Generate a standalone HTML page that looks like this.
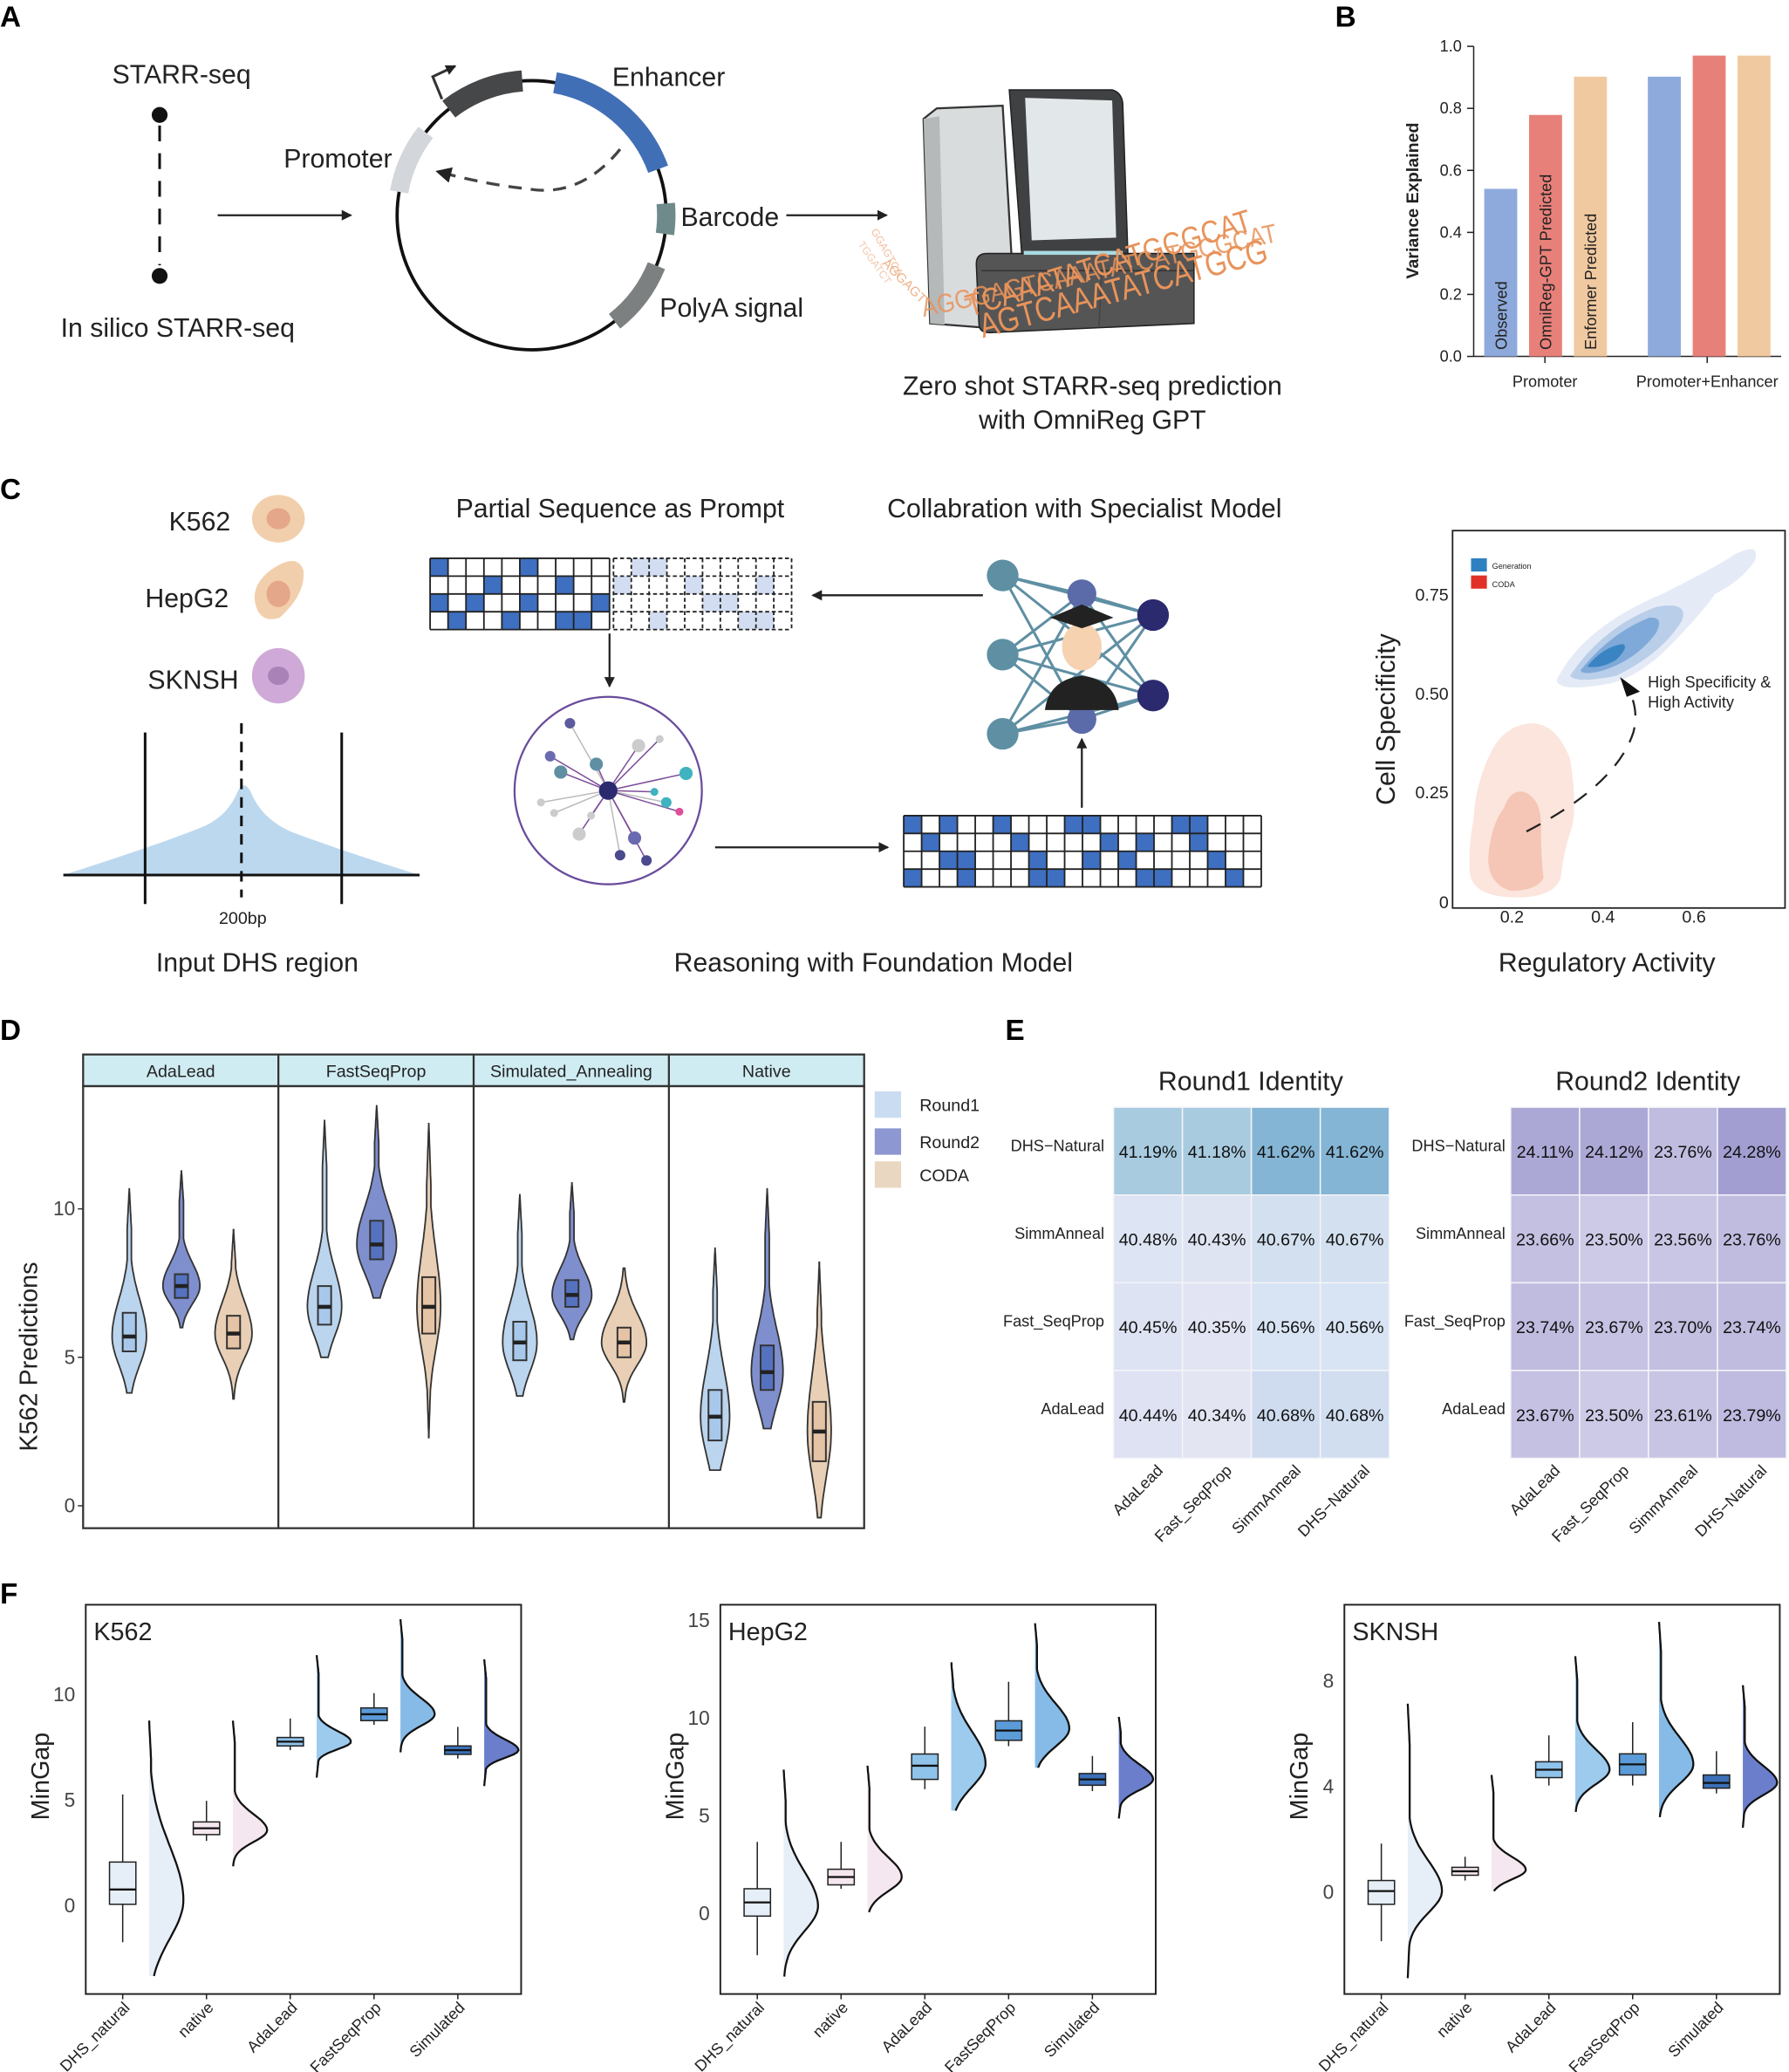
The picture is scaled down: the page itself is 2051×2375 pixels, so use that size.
<!DOCTYPE html>
<html><head><meta charset="utf-8">
<style>
html,body{margin:0;padding:0;background:#fff;}
svg{display:block;font-family:"Liberation Sans",sans-serif;}
</style></head>
<body>
<svg id="s" width="2051" height="2375" viewBox="0 0 1356 1570" xmlns="http://www.w3.org/2000/svg">
<defs>
<marker id="ah" markerWidth="8" markerHeight="8" refX="7" refY="4" orient="auto" markerUnits="userSpaceOnUse"><path d="M0,0 L8,4 L0,8 z" fill="#222"/></marker>
<marker id="ah2" markerWidth="14" markerHeight="14" refX="10" refY="7" orient="auto" markerUnits="userSpaceOnUse"><path d="M0,1 L12,7 L0,13 z" fill="#222"/></marker>
</defs>
<rect width="1356" height="1570" fill="#fff"/>
<g font-weight="bold" font-size="22" fill="#000">
<text x="0" y="20">A</text><text x="1012" y="20">B</text><text x="0" y="378">C</text>
<text x="0" y="788">D</text><text x="762" y="788">E</text><text x="0" y="1215">F</text></g>

<!-- Panel A -->
<g font-size="20" fill="#222">
<text x="85" y="63">STARR-seq</text>
<text x="46" y="255">In silico STARR-seq</text>
<text x="215" y="127">Promoter</text>
<text x="464" y="65">Enhancer</text>
<text x="516" y="171">Barcode</text>
<text x="500" y="240">PolyA signal</text>
<text x="828" y="299" text-anchor="middle">Zero shot STARR-seq prediction</text>
<text x="828" y="325" text-anchor="middle">with OmniReg GPT</text>
</g>
<circle cx="121" cy="87" r="6" fill="#111"/><circle cx="121" cy="209" r="6" fill="#111"/>
<line x1="121" y1="95" x2="121" y2="201" stroke="#111" stroke-width="2" stroke-dasharray="12,9"/>
<line x1="165" y1="163" x2="266" y2="163" stroke="#222" stroke-width="1.5" marker-end="url(#ah)"/>
<line x1="596" y1="163" x2="672" y2="163" stroke="#222" stroke-width="1.5" marker-end="url(#ah)"/>
<g id="plasmid"></g>
<!-- machine -->
<g>
<path d="M700,90 L710,82 L760,80 L770,250 L705,245 Z" fill="#d9dcdd" stroke="#333" stroke-width="1.5"/>
<path d="M700,90 L705,245 L716,246 L712,88 Z" fill="#b5b9ba"/>
<path d="M765,68 L843,68 Q850,70 851,78 L855,196 L775,200 Z" fill="#3f4142" stroke="#222"/>
<path d="M777,74 L843,76 L846,180 L782,182 Z" fill="#e2e8ea"/>
<path d="M740,200 Q740,192 748,192 L905,192 L905,245 L750,252 Q742,252 742,245 Z" fill="#555" stroke="#222"/>
<path d="M744,205 L905,205" stroke="#333"/>
<line x1="835" y1="205" x2="833" y2="248" stroke="#444"/>
<rect x="776" y="190" width="75" height="3" fill="#a9d9e0"/>
</g>
<g fill="#e8935a">
<text transform="translate(735,240) rotate(-17)" font-size="24" textLength="225" lengthAdjust="spacingAndGlyphs">TCAAATATCATGCGCAT</text>
<text transform="translate(745,256) rotate(-15)" font-size="26" textLength="225" lengthAdjust="spacingAndGlyphs">AGTCAAATATCATGCG</text>
<text transform="translate(700,240) rotate(-12)" font-size="20" textLength="275" lengthAdjust="spacingAndGlyphs" opacity="0.85">AGGGAGTCAAATATCATGCGCAT</text>
<text transform="translate(660,175) rotate(60)" font-size="8" opacity="0.6">GGAGTCA</text>
<text transform="translate(650,185) rotate(55)" font-size="8" opacity="0.5">TGGATCT</text>
<text transform="translate(668,200) rotate(45)" font-size="10" opacity="0.7">AGGAGT</text>
</g>

<!-- Panel B -->
<g font-size="12" fill="#222">
<line x1="1117" y1="35" x2="1117" y2="270" stroke="#222"/>
<line x1="1117" y1="270" x2="1350" y2="270" stroke="#222"/>
<g id="bticks"></g>
<rect x="1125" y="143" width="25" height="127" fill="#8eaadc"/>
<rect x="1159" y="87" width="25" height="183" fill="#e8807a"/>
<rect x="1193" y="58" width="25" height="212" fill="#f1c9a0"/>
<rect x="1249" y="58" width="25" height="212" fill="#8eaadc"/>
<rect x="1283" y="42" width="25" height="228" fill="#e8807a"/>
<rect x="1317" y="42" width="25" height="228" fill="#f1c9a0"/>
<text transform="translate(1142,265) rotate(-90)">Observed</text>
<text transform="translate(1176,265) rotate(-90)">OmniReg-GPT Predicted</text>
<text transform="translate(1210,265) rotate(-90)">Enformer Predicted</text>
<text x="1171" y="293" text-anchor="middle">Promoter</text>
<text x="1294" y="293" text-anchor="middle">Promoter+Enhancer</text>
<line x1="1171" y1="270" x2="1171" y2="275" stroke="#222"/><line x1="1294" y1="270" x2="1294" y2="275" stroke="#222"/>
<text transform="translate(1075,152) rotate(-90)" text-anchor="middle" font-weight="bold" font-size="13">Variance Explained</text>
</g>

<!-- Panel C -->
<g font-size="20" fill="#222">
<text x="128" y="402">K562</text><text x="110" y="460">HepG2</text><text x="112" y="522">SKNSH</text>
<text x="470" y="392" text-anchor="middle">Partial Sequence as Prompt</text>
<text x="822" y="392" text-anchor="middle">Collabration with Specialist Model</text>
<text x="195" y="736" text-anchor="middle">Input DHS region</text>
<text x="662" y="736" text-anchor="middle">Reasoning with Foundation Model</text>
<text x="1218" y="736" text-anchor="middle">Regulatory Activity</text>
<text x="184" y="700" text-anchor="middle" font-size="13">200bp</text>
</g>
<ellipse cx="211" cy="393" rx="20" ry="18" fill="#f2cfac"/><ellipse cx="211" cy="393" rx="9" ry="8" fill="#e5a789"/>
<path d="M195,462 Q188,445 205,432 Q225,418 230,432 Q232,450 212,468 Q200,472 195,462 Z" fill="#f2cfac"/><ellipse cx="211" cy="450" rx="9" ry="10" fill="#e5a789"/>
<ellipse cx="211" cy="512" rx="20" ry="21" fill="#cfa9d8"/><ellipse cx="211" cy="512" rx="8" ry="7" fill="#a983b8"/>
<path d="M48,663 Q120,640 150,628 Q172,620 180,600 Q185,590 190,600 Q198,620 220,630 Q260,645 318,663 Z" fill="#bcd8ee"/>
<line x1="48" y1="663" x2="318" y2="663" stroke="#111" stroke-width="2"/>
<line x1="110" y1="555" x2="110" y2="685" stroke="#111" stroke-width="2"/>
<line x1="259" y1="555" x2="259" y2="685" stroke="#111" stroke-width="2"/>
<line x1="183" y1="548" x2="183" y2="680" stroke="#111" stroke-width="2" stroke-dasharray="8,6"/>
<g id="grids"></g>
<line x1="745" y1="451" x2="616" y2="451" stroke="#222" stroke-width="1.5" marker-end="url(#ah)"/>
<line x1="462" y1="480" x2="462" y2="520" stroke="#222" stroke-width="1.5" marker-end="url(#ah)"/>
<line x1="542" y1="642" x2="673" y2="642" stroke="#222" stroke-width="1.5" marker-end="url(#ah)"/>
<line x1="820" y1="612" x2="820" y2="560" stroke="#222" stroke-width="1.5" marker-end="url(#ah)"/>
<circle cx="461" cy="599" r="71" fill="#fff" stroke="#6a4c9c" stroke-width="1.5"/>
<g id="net"></g>
<g id="nn"></g>
<!-- scatter density -->
<rect x="1101" y="402" width="252" height="286" fill="#fff" stroke="#222" stroke-width="1.2"/>
<g font-size="13" fill="#222">
<text x="1098" y="455" text-anchor="end">0.75</text><text x="1098" y="530" text-anchor="end">0.50</text>
<text x="1098" y="605" text-anchor="end">0.25</text><text x="1098" y="688" text-anchor="end">0</text>
<text x="1146" y="699" text-anchor="middle">0.2</text><text x="1215" y="699" text-anchor="middle">0.4</text><text x="1284" y="699" text-anchor="middle">0.6</text>
<text transform="translate(1057,545) rotate(-90)" text-anchor="middle" font-size="20">Cell Specificity</text>
<text x="1249" y="521" font-size="12">High Specificity &amp;</text>
<text x="1249" y="536" font-size="12">High Activity</text>
<text x="1131" y="431" font-size="6">Generation</text><text x="1131" y="445" font-size="6">CODA</text>
</g>
<rect x="1115" y="423" width="12" height="10" fill="#2f80c0"/><rect x="1115" y="436" width="12" height="10" fill="#e03028"/>
<path d="M1130,570 Q1140,550 1160,548 Q1180,548 1190,575 Q1195,605 1192,625 Q1185,645 1183,665 Q1178,680 1150,680 Q1115,680 1114,660 Q1113,640 1117,620 Q1118,595 1130,570 Z" fill="#fbe5dc"/>
<path d="M1140,612 Q1145,598 1155,600 Q1168,605 1168,625 Q1168,650 1170,665 Q1165,675 1145,675 Q1128,670 1128,650 Q1130,625 1140,612 Z" fill="#f5c6b5"/>
<path d="M1180,515 Q1200,475 1260,450 Q1300,430 1315,420 Q1335,410 1330,425 Q1320,440 1300,450 Q1292,462 1270,485 Q1245,512 1220,518 Q1180,525 1180,515 Z" fill="#e5ebf6"/>
<path d="M1190,512 Q1215,475 1255,460 Q1280,455 1275,470 Q1260,495 1225,512 Q1195,518 1190,512 Z" fill="#b9cee9"/>
<path d="M1198,508 Q1220,480 1250,468 Q1262,467 1255,480 Q1240,500 1215,508 Q1200,512 1198,508 Z" fill="#7fa9d8"/>
<path d="M1203,505 Q1215,490 1230,488 Q1235,490 1225,500 Q1213,507 1203,505 Z" fill="#3a84c4"/>
<path d="M1157,630 Q1225,595 1238,555 Q1242,540 1236,526" fill="none" stroke="#222" stroke-width="1.5" stroke-dasharray="12,9"/>
<path d="M1228,513 L1243,524 L1233,528 Z" fill="#111"/>

<g id="pd"></g>
<g id="pe"></g>
<g id="pf"></g>
</svg>
<script>
const NS="http://www.w3.org/2000/svg";
function el(p,t,a,txt){const e=document.createElementNS(NS,t);for(const k in a)e.setAttribute(k,a[k]);if(txt!=null)e.textContent=txt;document.getElementById(p).appendChild(e);return e;}
(function(){
 const cx=403,cy=163,r=102;
 el("plasmid","circle",{cx,cy,r,fill:"none",stroke:"#111","stroke-width":2.5});
 function arc(a0,a1,col,w){const p=a=>[cx+r*Math.cos(a*Math.PI/180),cy+r*Math.sin(a*Math.PI/180)];
  const s=p(a0),e=p(a1);el("plasmid","path",{d:`M${s[0]},${s[1]} A${r},${r} 0 0 1 ${e[0]},${e[1]}`,fill:"none",stroke:col,"stroke-width":w});}
 arc(190,218,"#d3d6da",14);arc(232,266,"#454748",16);arc(280,340,"#416fb6",16);arc(355,8,"#6e8a8a",14);arc(22,52,"#7d8080",14);
 el("plasmid","path",{d:"M335,75 L328,58 L345,50",fill:"none",stroke:"#333","stroke-width":2,"marker-end":"url(#ah)"});
 el("plasmid","path",{d:"M470,113 Q440,150 400,143 Q370,140 332,130",fill:"none",stroke:"#444","stroke-width":2.2,"stroke-dasharray":"10,7","marker-end":"url(#ah2)"});
})();
[0,0.2,0.4,0.6,0.8,1.0].forEach(v=>{const y=270-v*235;el("bticks","line",{x1:1112,y1:y,x2:1117,y2:y,stroke:"#222"});el("bticks","text",{x:1108,y:y+4,"text-anchor":"end","font-size":12},v.toFixed(1));});
function grid(x0,y0,w,h,cols,rows,pattern,dash,fillc){
 const cw=w/cols,rh=h/rows;
 for(let r=0;r<rows;r++)for(let c=0;c<cols;c++){
  if(pattern(r,c))el("grids","rect",{x:x0+c*cw,y:y0+r*rh,width:cw,height:rh,fill:fillc});}
 for(let c=0;c<=cols;c++)el("grids","line",{x1:x0+c*cw,y1:y0,x2:x0+c*cw,y2:y0+h,stroke:"#222","stroke-width":1.2,"stroke-dasharray":dash?"3,2":"none"});
 for(let r=0;r<=rows;r++)el("grids","line",{x1:x0,y1:y0+r*rh,x2:x0+w,y2:y0+r*rh,stroke:"#222","stroke-width":1.2,"stroke-dasharray":dash?"3,2":"none"});
}
const p1=[[1,0,0,0,0,1,0,0,0,0],[0,0,0,1,0,0,0,1,0,0],[1,0,1,0,0,1,0,0,0,1],[0,1,0,0,1,0,0,1,1,0]];
grid(326,423,136,54,10,4,(r,c)=>p1[r][c],false,"#3e6fc0");
const p2=[[0,1,1,0,0,0,0,0,0,0],[1,0,0,0,1,0,0,0,1,0],[0,0,0,0,0,1,1,0,0,0],[0,0,1,0,0,0,0,1,1,0]];
grid(465,423,135,54,10,4,(r,c)=>p2[r][c],true,"#d3ddf2");
grid(685,618,271,54,20,4,(r,c)=>((r*7+c*3)%5==0)||((c+r*3)%7==2),false,"#3e6fc0");
(function(){
 const nodes=[[461,599,7,"#2b2a6e"],[425,585,5,"#5e8fa3"],[452,579,5,"#5e8fa3"],[432,548,4,"#5b5b9e"],[417,573,4,"#6a6ab0"],[520,586,5,"#3fb3bf"],[505,608,4,"#3fb3bf"],[481,635,5,"#6a6ab0"],[490,652,4,"#4a4a8e"],[470,648,4,"#4a4a8e"],[484,565,5,"#ccc"],[439,632,5,"#ccc"],[410,608,3,"#ccc"],[496,600,3,"#3fb3bf"],[515,615,3,"#e04f9a"],[420,616,3,"#ccc"],[500,560,3,"#ccc"],[448,618,3,"#ccc"]];
 nodes.forEach((n,i)=>{if(i)el("net","line",{x1:461,y1:599,x2:n[0],y2:n[1],stroke:i%3?"#7d4e9a":"#bbb","stroke-width":1});});
 nodes.forEach(n=>el("net","circle",{cx:n[0],cy:n[1],r:n[2],fill:n[3]}));
 const L=[[760,436],[760,496],[760,556]],M=[[820,450],[820,545]],R=[[874,466],[874,527]];
 L.forEach(a=>{M.concat(R).forEach(b=>el("nn","line",{x1:a[0],y1:a[1],x2:b[0],y2:b[1],stroke:"#5f8fa3","stroke-width":2}));});
 M.forEach(a=>R.forEach(b=>el("nn","line",{x1:a[0],y1:a[1],x2:b[0],y2:b[1],stroke:"#5f8fa3","stroke-width":2})));
 L.forEach(a=>el("nn","circle",{cx:a[0],cy:a[1],r:12,fill:"#5e8fa3"}));
 M.forEach(a=>el("nn","circle",{cx:a[0],cy:a[1],r:11,fill:"#5b6aa8"}));
 R.forEach(a=>el("nn","circle",{cx:a[0],cy:a[1],r:12,fill:"#2b2a6e"}));
 el("nn","path",{d:"M792,538 Q795,515 820,512 Q845,515 848,538 Z",fill:"#222"});
 el("nn","ellipse",{cx:820,cy:490,rx:15,ry:18,fill:"#f6d2b0"});
 el("nn","path",{d:"M796,468 L820,458 L844,468 L820,476 Z",fill:"#222"});
})();
function vpath(x,s,mn,q1,md,q3,mx,W,half){
 const N=60,pts=[];const sd=Math.max((q3-q1)/1.35,0.2);
 for(let i=0;i<=N;i++){const v=mn+(mx-mn)*i/N;let sdd=v>md?sd*1.3:sd;
  let w=W*Math.exp(-0.5*Math.pow((v-md)/sdd,2));const tail=Math.min((v-mn),(mx-v))/(mx-mn);w=Math.max(w,Math.min(tail*8,1.6));pts.push([v,w]);}
 let d="";pts.forEach((p,i)=>{d+=(i?"L":"M")+(x+p[1]).toFixed(1)+","+s(p[0]).toFixed(1);});
 for(let i=N;i>=0;i--){const p=pts[i];d+="L"+(half?x:(x-p[1])).toFixed(1)+","+s(p[0]).toFixed(1);}
 return d+"Z";
}
(function(){
 el("pd","rect",{x:63,y:799,width:592,height:24,fill:"#d0ecf3",stroke:"#333","stroke-width":1.5});
 el("pd","rect",{x:63,y:823,width:592,height:335,fill:"none",stroke:"#333","stroke-width":1.5});
 ["AdaLead","FastSeqProp","Simulated_Annealing","Native"].forEach((t,i)=>{const x=63+148*i;
  if(i)el("pd","line",{x1:x,y1:799,x2:x,y2:1158,stroke:"#333","stroke-width":1.5});
  el("pd","text",{x:x+74,y:816,"text-anchor":"middle","font-size":13,fill:"#222"},t);});
 const s=v=>1141-22.5*v;
 [[0,"0"],[5,"5"],[10,"10"]].forEach(t=>{el("pd","text",{x:57,y:s(t[0])+5,"text-anchor":"end","font-size":15,fill:"#444"},t[1]);el("pd","line",{x1:59,y1:s(t[0]),x2:63,y2:s(t[0]),stroke:"#333"});});
 el("pd","text",{transform:"translate(28,1028) rotate(-90)","text-anchor":"middle","font-size":19,fill:"#222"},"K562 Predictions");
 const cols=[["#bcd5ee","#a7c8ea"],["#7f8fce","#5572c0"],["#e8cfb5","#e5c3a5"]];
 const data=[
  [[3.8,5.2,5.7,6.5,10.7,13],[6.0,7.0,7.4,7.8,11.3,14],[3.6,5.3,5.8,6.4,9.3,14]],
  [[5.0,6.1,6.7,7.4,13.0,13],[7.0,8.3,8.8,9.6,13.5,15],[2.3,5.8,6.7,7.7,12.9,9]],
  [[3.7,4.9,5.5,6.2,10.5,13],[5.6,6.7,7.1,7.6,10.9,15],[3.5,5.0,5.5,6.0,8.0,17]],
  [[1.2,2.2,3.0,3.9,8.7,11],[2.6,3.9,4.5,5.4,10.7,12],[-0.4,1.5,2.5,3.5,8.2,9]]];
 data.forEach((pan,i)=>pan.forEach((d,j)=>{const x=63+148*i+35+j*39.5;
  el("pd","path",{d:vpath(x,s,d[0],d[1],d[2],d[3],d[4],d[5],false),fill:cols[j][0],stroke:"#333","stroke-width":1.2});
  el("pd","rect",{x:x-5,y:s(d[3]),width:10,height:s(d[1])-s(d[3]),fill:cols[j][1],stroke:"#333","stroke-width":1.3});
  el("pd","line",{x1:x-5,y1:s(d[2]),x2:x+5,y2:s(d[2]),stroke:"#222","stroke-width":3});
 }));
 [["Round1","#c9dcf2",827],["Round2","#8d97d1",855],["CODA","#ead7c2",880]].forEach(l=>{
  el("pd","rect",{x:663,y:l[2],width:20,height:20,fill:l[1]});
  el("pd","text",{x:697,y:l[2]+15,"font-size":13,fill:"#222"},l[0]);});
})();
(function(){
 const rows=["DHS\u2212Natural","SimmAnneal","Fast_SeqProp","AdaLead"],colsN=["AdaLead","Fast_SeqProp","SimmAnneal","DHS\u2212Natural"];
 const v1=[["41.19%","41.18%","41.62%","41.62%"],["40.48%","40.43%","40.67%","40.67%"],["40.45%","40.35%","40.56%","40.56%"],["40.44%","40.34%","40.68%","40.68%"]];
 const c1=[["#a8cbe0","#a8cbe0","#84b5d4","#84b5d4"],["#dde4f3","#dfe4f3","#d3e0f0","#d3e0f0"],["#dde3f3","#e2e4f3","#d8e4f3","#d8e4f3"],["#dee2f3","#e3e5f3","#cfdcef","#d1def0"]];
 const v2=[["24.11%","24.12%","23.76%","24.28%"],["23.66%","23.50%","23.56%","23.76%"],["23.74%","23.67%","23.70%","23.74%"],["23.67%","23.50%","23.61%","23.79%"]];
 const c2=[["#aca8d6","#aca8d6","#c0bce0","#a29ed2"],["#c4c0e2","#cdcae7","#c9c6e5","#c0bce0"],["#c0bce0","#c6c2e3","#c3bfe1","#c0bce0"],["#c5c1e3","#cdcae7","#c8c4e4","#bebae0"]];
 function hm(x0,vals,cs,title,lx){
  const cw=52.25,rh=66.5,y0=839;
  el("pe","text",{x:x0+104,y:826,"text-anchor":"middle","font-size":20,fill:"#222"},title);
  for(let r=0;r<4;r++){for(let c=0;c<4;c++){
   el("pe","rect",{x:x0+c*cw,y:y0+r*rh,width:cw,height:rh,fill:cs[r][c],stroke:"#f4f4f8","stroke-width":1});
   el("pe","text",{x:x0+c*cw+cw/2,y:y0+r*rh+rh/2+5,"text-anchor":"middle","font-size":13,fill:"#111"},vals[r][c]);}
   el("pe","text",{x:lx,y:y0+r*rh+rh/2,"text-anchor":"end","font-size":12,fill:"#222"},rows[r]);}
  colsN.forEach((t,c)=>el("pe","text",{transform:`translate(${x0+c*cw+cw/2+12},${y0+4*rh+10}) rotate(-45)`,"text-anchor":"end","font-size":12,fill:"#222"},t));
 }
 hm(844,v1,c1,"Round1 Identity",837);
 hm(1145,v2,c2,"Round2 Identity",1141);
})();
(function(){
 const plots=[
  {x:65,name:"K562",z:1443,k:16,ticks:[0,5,10],
   d:[[-1.8,0,0.7,2,5.2,-3.4,8.7,0.2],[3,3.3,3.6,3.9,4.9,1.8,8.7,3.5],[7.3,7.5,7.7,7.9,8.8,6,11.8,7.7],[8.5,8.7,9,9.3,10,7.2,13.5,9],[6.9,7.1,7.3,7.5,8.4,5.6,11.6,7.3]]},
  {x:546,name:"HepG2",z:1449,k:14.8,ticks:[0,5,10,15],
   d:[[-2.2,-0.2,0.5,1.2,3.6,-3.3,7.3,0.3],[1.2,1.4,1.8,2.2,3.6,0,7.5,1.8],[6.3,6.8,7.5,8.1,9.5,5.2,12.8,7.6],[8.5,8.8,9.3,9.8,11.8,7.4,14.8,9.4],[6.2,6.5,6.8,7.1,8,4.8,10,6.8]]},
  {x:1019,name:"SKNSH",z:1433,k:20,ticks:[0,4,8],
   d:[[-1.9,-0.5,0,0.4,1.8,-3.3,7.1,0],[0.4,0.6,0.75,0.9,1.3,0,4.4,0.8],[4,4.3,4.6,4.9,5.9,3,8.9,4.6],[4,4.4,4.8,5.2,6.4,2.8,10.2,4.8],[3.7,3.9,4.1,4.4,5.3,2.4,7.8,4.1]]}];
 const bc=["#e6eef7","#f5e7ef","#8fc3ea","#5b9bd8","#3c70b8"],vc=["#e6eef7","#f5e7ef","#9ccbee","#86bbe8","#6a7ecb"];
 const names=["DHS_natural","native","AdaLead","FastSeqProp","Simulated"];
 plots.forEach(P=>{
  const s=v=>P.z-P.k*v;
  el("pf","rect",{x:P.x,y:1216,width:330,height:295,fill:"none",stroke:"#222","stroke-width":1.3});
  el("pf","text",{x:P.x+6,y:1243,"font-size":19,fill:"#222"},P.name);
  P.ticks.forEach(t=>{el("pf","text",{x:P.x-8,y:s(t)+6,"text-anchor":"end","font-size":15,fill:"#444"},t);});
  el("pf","text",{transform:`translate(${P.x-28},1346) rotate(-90)`,"text-anchor":"middle","font-size":19,fill:"#222"},"MinGap");
  P.d.forEach((d,i)=>{const bx=P.x+28+i*63.5,vx=bx+20;
   const N=60;let pts=[];const sd=Math.max((d[3]-d[1])/1.1,0.35);
   for(let j=0;j<=N;j++){const v=d[5]+(d[6]-d[5])*j/N;const sdd=v>d[7]?sd*1.4:sd;let w=26*Math.exp(-0.5*Math.pow((v-d[7])/sdd,2));w=Math.max(w,Math.min(Math.min(v-d[5],d[6]-v)/(d[6]-d[5])*10,1.5));pts.push([vx+w,s(v)]);}
   let p="M"+vx+","+s(d[5]);pts.forEach(q=>p+="L"+q[0].toFixed(1)+","+q[1].toFixed(1));p+="L"+vx+","+s(d[6])+"Z";
   el("pf","path",{d:p,fill:vc[i],stroke:"none"});
   el("pf","path",{d:pts.map((q,j)=>(j?"L":"M")+q[0].toFixed(1)+","+q[1].toFixed(1)).join(""),fill:"none",stroke:"#111","stroke-width":1.5});
   el("pf","line",{x1:bx,y1:s(d[0]),x2:bx,y2:s(d[4]),stroke:"#222","stroke-width":1});
   el("pf","rect",{x:bx-10,y:s(d[3]),width:20,height:Math.max(s(d[1])-s(d[3]),3),fill:bc[i],stroke:"#222","stroke-width":1});
   el("pf","line",{x1:bx-10,y1:s(d[2]),x2:bx+10,y2:s(d[2]),stroke:"#111","stroke-width":1.5});
   el("pf","line",{x1:bx,y1:1511,x2:bx,y2:1515,stroke:"#222"});
   el("pf","text",{transform:`translate(${bx+6},1522) rotate(-45)`,"text-anchor":"end","font-size":12,fill:"#222"},names[i]);
  });
 });
})();
</script>
</body></html>
